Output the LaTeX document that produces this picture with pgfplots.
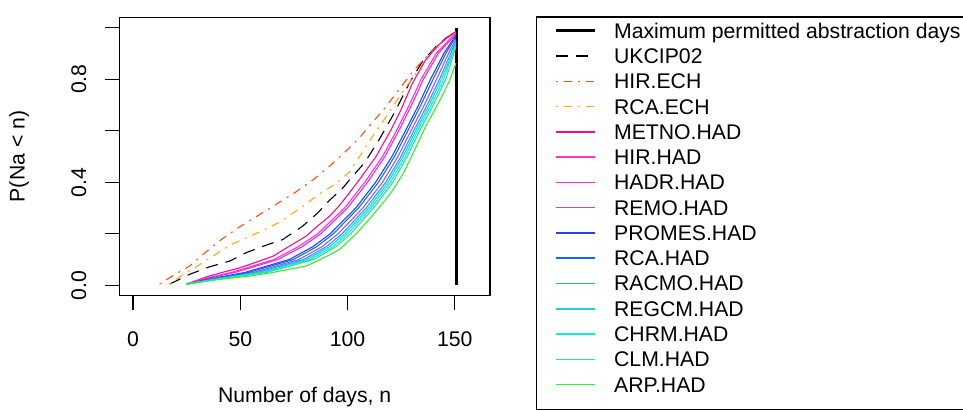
\documentclass[border=0pt]{standalone}
\usepackage{pgfplots}
\pgfplotsset{compat=1.18}
\usepackage{fontspec}
\setmainfont{Liberation Sans}
\definecolor{cHIRECH}{HTML}{FF4D1A}
\definecolor{cRCAECH}{HTML}{FFA516}
\definecolor{cMETNO}{HTML}{FF0A8C}
\definecolor{cHIRHAD}{HTML}{FF33CC}
\definecolor{cHADR}{HTML}{F026F0}
\definecolor{cREMO}{HTML}{9955F5}
\definecolor{cPROMES}{HTML}{2244EE}
\definecolor{cRCAHAD}{HTML}{1166FF}
\definecolor{cRACMO}{HTML}{22A0F5}
\definecolor{cREGCM}{HTML}{22CCF0}
\definecolor{cCHRM}{HTML}{11EED5}
\definecolor{cCLM}{HTML}{22E890}
\definecolor{cARP}{HTML}{33EE33}
\begin{document}
\fontsize{10.6}{12.6}\selectfont
\begin{tikzpicture}
\useasboundingbox (0pt,0pt) rectangle (481.5pt,205.5pt);
\clip (0pt,0pt) rectangle (481.5pt,205.5pt);
\begin{axis}[
  at={(59.65pt,57.65pt)}, anchor=south west,
  scale only axis, width=185.35pt, height=139.2pt,
  xmin=-6.4, xmax=166.4, ymin=-0.04, ymax=1.04,
  axis line style={line width=0.6pt},
  tick pos=left, tick align=outside, major tick length=7.3pt,
  tick style={black, line width=0.6pt},
  xtick={0,50,100,150}, xticklabels={0,50,100,150},
  ytick={0,0.2,0.4,0.6,0.8,1.0}, yticklabels={0.0,,0.4,,0.8,},
  xticklabel style={anchor=north, inner sep=0pt},
  xticklabel shift=10.7pt,
  yticklabel style={rotate=90, anchor=south, inner sep=0pt},
  yticklabel shift=9pt,
  xlabel={Number of days, n},
  ylabel={P(Na < n)},
  every axis x label/.style={at={(axis description cs:0.5,-0.3829)}, anchor=base},
  every axis y label/.style={at={(axis description cs:-0.270,0.5)}, anchor=center, rotate=90},
  legend image code/.code={\path[draw=none,fill=none] (0pt,-2.5pt) rectangle (19.2pt,8pt); \draw[#1, line width=0.8pt] (0pt,3.75pt) -- (19.2pt,3.75pt);},
  legend cell align=left,
  legend style={at={(axis description cs:1.1753,0.98204)}, anchor=north west,
    draw=none, fill=none, inner sep=0pt, outer sep=0pt,
    row sep=2.135pt, column sep=9pt,
    cells={anchor=base west},
    nodes={inner sep=0pt, text height=8pt, text depth=2.5pt}},
  every axis plot/.append style={line width=0.55pt},
]
\addplot[black, line width=1.4pt, legend image code/.code={\path[draw=none,fill=none] (0pt,-2.5pt) rectangle (19.2pt,8pt); \draw[black, line width=1.4pt] (0pt,3.75pt) -- (19.2pt,3.75pt);}] coordinates {(150.8,0)(150.8,1)};
\addlegendentry{Maximum permitted abstraction days}
\addplot[black, dash pattern=on 6pt off 4pt] coordinates {(17.1,0.005)(26.4,0.043)(35.7,0.072)(45,0.094)(52.8,0.127)(60,0.15)(69.8,0.178)(79.1,0.23)(86.1,0.281)(91.6,0.33)(97.8,0.378)(102.5,0.425)(107.9,0.475)(114.7,0.565)(121.8,0.669)(128.8,0.785)(135,0.87)(141.2,0.926)(146,0.96)(150.5,0.985)};
\addlegendentry{UKCIP02}
\addplot[cHIRECH, dash pattern=on 1pt off 3pt on 4pt off 3pt] coordinates {(12.4,0.005)(19,0.04)(26.4,0.075)(34,0.13)(41.2,0.178)(49.3,0.225)(62,0.29)(75.3,0.359)(84,0.41)(91.6,0.462)(98.5,0.515)(105.5,0.572)(111.7,0.633)(118,0.694)(124,0.76)(130.4,0.83)(138.2,0.90)(145,0.95)(150.5,0.985)};
\addlegendentry{HIR.ECH}
\addplot[cRCAECH, dash pattern=on 1pt off 3pt on 4pt off 3pt] coordinates {(17.1,0.005)(22,0.035)(28.7,0.068)(37.3,0.114)(45.8,0.159)(54.3,0.19)(61,0.215)(68.3,0.245)(78,0.3)(86.9,0.355)(94.7,0.395)(100.9,0.44)(106,0.505)(111.7,0.578)(116.5,0.636)(121,0.694)(126.5,0.76)(131.9,0.823)(140,0.91)(146,0.955)(150.5,0.985)};
\addlegendentry{RCA.ECH}
\addplot[cMETNO] coordinates {(24.9,0.005)(35,0.035)(41.5,0.05)(49.7,0.068)(54.3,0.081)(60.8,0.1)(65.2,0.113)(72.5,0.15)(80.7,0.191)(86,0.23)(91.6,0.268)(96.2,0.31)(100.5,0.355)(105.5,0.41)(113.3,0.50)(120.3,0.604)(124.9,0.681)(130,0.78)(136,0.87)(142,0.93)(147,0.965)(150.5,0.985)};
\addlegendentry{METNO.HAD}
\addplot[cHIRHAD] coordinates {(24.9,0.005)(32.6,0.025)(45.7,0.05)(65.6,0.1)(77.0,0.15)(86.0,0.2)(98.6,0.3)(108.0,0.4)(116.3,0.5)(122.8,0.6)(128.8,0.7)(134.3,0.8)(141.3,0.9)(150.5,0.98)};
\addlegendentry{HIR.HAD}
\addplot[cHADR] coordinates {(24.9,0.005)(33.4,0.025)(47.4,0.05)(67.4,0.1)(78.8,0.15)(87.5,0.2)(99.9,0.3)(109.3,0.4)(117.4,0.5)(123.9,0.6)(129.9,0.7)(135.4,0.8)(142.3,0.9)(150.5,0.975)};
\addlegendentry{HADR.HAD}
\addplot[cREMO] coordinates {(24.9,0.005)(37.6,0.025)(56.1,0.05)(77.2,0.1)(88.1,0.15)(95.6,0.2)(107.1,0.3)(116.3,0.4)(123.5,0.5)(129.6,0.6)(135.8,0.7)(141.5,0.8)(147.1,0.9)(150.5,0.955)};
\addlegendentry{REMO.HAD}
\addplot[cPROMES] coordinates {(24.9,0.005)(35.7,0.025)(52.1,0.05)(72.7,0.1)(83.8,0.15)(91.9,0.2)(103.8,0.3)(113.1,0.4)(120.7,0.5)(127.0,0.6)(133.1,0.7)(138.7,0.8)(144.9,0.9)(150.5,0.97)};
\addlegendentry{PROMES.HAD}
\addplot[cRCAHAD] coordinates {(24.9,0.005)(36.5,0.025)(53.7,0.05)(74.6,0.1)(85.6,0.15)(93.4,0.2)(105.1,0.3)(114.4,0.4)(121.9,0.5)(128.1,0.6)(134.2,0.7)(139.9,0.8)(145.8,0.9)(150.5,0.965)};
\addlegendentry{RCA.HAD}
\addplot[cRACMO] coordinates {(24.9,0.005)(38.6,0.025)(58.0,0.05)(79.4,0.1)(90.1,0.15)(97.4,0.2)(108.6,0.3)(117.8,0.4)(124.9,0.5)(130.9,0.6)(137.1,0.7)(142.9,0.8)(148.1,0.9)(150.5,0.95)};
\addlegendentry{RACMO.HAD}
\addplot[cREGCM] coordinates {(24.9,0.005)(39.2,0.025)(59.4,0.05)(81.0,0.1)(91.6,0.15)(98.7,0.2)(109.8,0.3)(118.9,0.4)(125.8,0.5)(131.8,0.6)(138.1,0.7)(143.8,0.8)(148.9,0.9)(150.5,0.945)};
\addlegendentry{REGCM.HAD}
\addplot[cCHRM] coordinates {(24.9,0.005)(39.9,0.025)(60.8,0.05)(82.5,0.1)(93.1,0.15)(100.0,0.2)(110.9,0.3)(120.0,0.4)(126.8,0.5)(132.7,0.6)(139.0,0.7)(144.8,0.8)(150.5,0.935)};
\addlegendentry{CHRM.HAD}
\addplot[cCLM] coordinates {(24.9,0.005)(40.6,0.025)(62.2,0.05)(84.1,0.1)(94.6,0.15)(101.4,0.2)(112.1,0.3)(121.1,0.4)(127.8,0.5)(133.6,0.6)(140.0,0.7)(145.8,0.8)(150.5,0.925)};
\addlegendentry{CLM.HAD}
\addplot[cARP] coordinates {(24.9,0.005)(33,0.015)(42,0.025)(54.3,0.036)(65,0.05)(80.7,0.075)(87.3,0.1)(92,0.12)(96.2,0.139)(104,0.2)(111.5,0.27)(115.5,0.31)(120.3,0.36)(125.7,0.43)(131,0.52)(136.6,0.62)(142.8,0.714)(147.4,0.791)(150.5,0.862)};
\addlegendentry{ARP.HAD}
\end{axis}
\draw[line width=0.6pt] (268.35pt,0.85pt) rectangle (500pt,197pt);
\end{tikzpicture}
\end{document}
